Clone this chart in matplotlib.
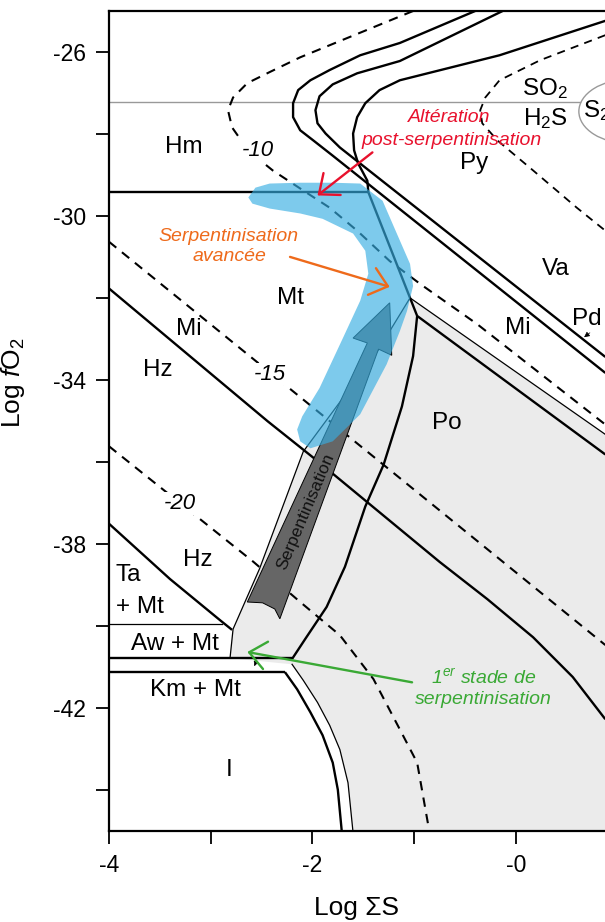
import numpy as np
import matplotlib
matplotlib.use("Agg")
import matplotlib.pyplot as plt
from matplotlib.patches import Polygon, Ellipse

plt.rcParams.update({"font.family": "Liberation Sans", "mathtext.fontset": "custom",
                     "mathtext.rm": "Liberation Sans", "mathtext.it": "Liberation Sans:italic",
                     "mathtext.bf": "Liberation Sans:bold"})
INK = "black"; GREY = "#ebebeb"; BLUE = "#37aee2"
RED = "#e8112d"; ORANGE = "#ee6a1b"; GREEN = "#3aa935"

# ---- boundaries (x = log sum S, y = log fO2) ----
hm_mt_x = [-4.0, -1.45]; hm_mt_y = [-29.42, -29.42]
mt_py_x = [-1.45, -1.04]; mt_py_y = [-29.42, -32.00]
hm_py_x = [0.88, -0.16, -1.14, -1.34, -1.48, -1.56, -1.60, -1.59, -1.55, -1.46, -1.45]
hm_py_y = [-25.24, -26.08, -26.69, -26.93, -27.25, -27.59, -27.99, -28.40, -28.72, -29.14, -29.42]
ni1_x = [-0.40, -1.14, -1.53, -1.83, -2.02, -2.14, -2.19, -2.19, -2.12, -1.99, -1.80, 0.88]
ni1_y = [-25.00, -25.78, -26.08, -26.44, -26.69, -26.93, -27.25, -27.59, -27.91, -28.16, -28.53, -33.83]
ni2_x = [-0.13, -1.14, -1.56, -1.80, -1.93, -1.97, -1.95, -1.87, -1.73, 0.88]
ni2_y = [-25.00, -26.22, -26.52, -26.79, -27.08, -27.42, -27.74, -27.99, -28.33, -33.44]
d10_x = [-1.01, -2.12, -2.42, -2.64, -2.78, -2.83, -2.79, -2.68, -2.51, -2.39, -2.09, -1.83, -1.56,
         -1.24, -0.94, -0.38, 0.88]
d10_y = [-25.00, -26.13, -26.49, -26.76, -27.11, -27.42, -27.84, -28.23, -28.65, -28.89, -29.38, -29.80,
         -30.36, -31.10, -31.66, -32.64, -35.09]
so2_x = [0.88, 0.24, -0.16, -0.30, -0.35, -0.33, -0.18, 0.17, 0.60, 0.88]
so2_y = [-25.59, -26.20, -26.69, -27.11, -27.42, -27.74, -28.16, -28.89, -29.80, -30.36]
mipo_thin_x = [-1.04, 0.88]; mipo_thin_y = [-32.00, -35.33]
mipo_x = [-1.04, -0.97, 0.88]; mipo_y = [-32.00, -32.44, -35.82]
po_x = [-0.97, -1.01, -1.12, -1.30, -1.48, -1.68, -1.86, -2.07, -2.20]
po_y = [-32.44, -33.42, -34.65, -36.07, -37.09, -38.56, -39.54, -40.32, -40.81]
mihz_x = [-4.0, -2.44, -1.97, -0.75, -0.28, 0.17, 0.56, 0.88]
mihz_y = [-31.77, -35.01, -35.94, -38.44, -39.35, -40.28, -41.25, -42.28]
d15_x = [-4.0, 0.88]; d15_y = [-30.63, -40.47]
d20_x = [-4.00, -2.58, -2.12, -1.73, -1.40, -1.14, -0.97, -0.86, -0.85]
d20_y = [-35.62, -38.44, -39.42, -40.23, -41.30, -42.53, -43.34, -44.88, -45.05]
ta_x = [-4.00, -3.40, -2.91, -2.79]; ta_y = [-37.51, -38.86, -39.86, -40.10]
aw_top_x = [-4.0, -2.89]; aw_top_y = [-39.96, -39.96]
aw_bot_x = [-4.0, -2.20]; aw_bot_y = [-40.79, -40.79]
km_top_x = [-4.0, -2.27]; km_top_y = [-41.13, -41.13]
km_in_x = [-2.27, -2.15, -2.02, -1.90, -1.80, -1.75, -1.71]
km_in_y = [-41.13, -41.55, -42.11, -42.67, -43.34, -44.00, -45.05]
km_out_x = [-2.20, -2.09, -1.95, -1.83, -1.73, -1.65, -1.60]
km_out_y = [-40.94, -41.33, -41.87, -42.43, -43.02, -43.83, -45.05]
left_x = [-2.81, -2.78, -2.52, -2.09, -1.36, -1.04]
left_y = [-40.79, -40.08, -38.61, -35.75, -33.30, -32.00]
so2_line_y = -27.23

blue_x = [-2.63, -2.56, -2.42, -2.12, -1.80, -1.53, -1.31, -1.17, -1.04, -1.01, -1.07, -1.14, -1.27,
          -1.53, -1.80, -2.02, -2.12, -2.15, -2.10, -1.93, -1.70, -1.53, -1.45, -1.48, -1.60, -1.90,
          -2.12, -2.42, -2.59]
blue_y = [-29.55, -29.31, -29.21, -29.19, -29.19, -29.21, -29.63, -30.43, -31.17, -31.71, -32.32, -32.81,
          -33.62, -34.84, -35.50, -35.67, -35.50, -35.21, -34.89, -34.20, -32.98, -32.07, -31.41, -30.85,
          -30.43, -30.07, -29.94, -29.82, -29.70]
arrow_x = [-2.64, -1.46, -1.60, -1.24, -1.22, -1.35, -2.32, -2.37, -2.49]
arrow_y = [-39.42, -33.10, -32.98, -32.12, -33.40, -33.25, -39.83, -39.59, -39.44]

fig = plt.figure(figsize=(6.05, 9.22), dpi=100)
ax = fig.add_axes([109 / 605, 91.3 / 922, 496 / 605, 819.7 / 922])
ax.set_xlim(-4, 0.877); ax.set_ylim(-45, -25)

# grey field (Po side)
gx = np.concatenate([[-1.04, 0.88, 0.95, -1.60], km_out_x[::-1], left_x])
gy = np.concatenate([[-32.00, -35.33, -45.5, -45.5], km_out_y[::-1], left_y])
ax.add_patch(Polygon(np.c_[gx, gy], closed=True, fc=GREY, ec="none", zorder=0))

thick = dict(color=INK, lw=1.7, zorder=2, solid_capstyle="butt", solid_joinstyle="round")
thin = dict(color=INK, lw=0.9, zorder=2)
dash = dict(color=INK, lw=1.5, zorder=2, dashes=(4.5, 3.5))
ax.axhline(so2_line_y, xmax=(0.63 + 4) / 4.877, color="#999999", lw=1.0, zorder=1)
ax.add_patch(Ellipse((1.12, -27.45), 1.0, 1.57, fc="none", ec="#999999", lw=1.0, zorder=1))
for xs, ys in [(hm_mt_x, hm_mt_y), (mt_py_x, mt_py_y), (hm_py_x, hm_py_y), (ni1_x, ni1_y),
               (ni2_x, ni2_y), (mipo_x, mipo_y), (po_x, po_y), (mihz_x, mihz_y), (ta_x, ta_y),
               (aw_bot_x, aw_bot_y), (km_top_x, km_top_y), (km_in_x, km_in_y)]:
    ax.plot(xs, ys, **thick)
for xs, ys in [(mipo_thin_x, mipo_thin_y), (aw_top_x, aw_top_y), (km_out_x, km_out_y), (left_x, left_y)]:
    ax.plot(xs, ys, **thin)
ax.plot(d10_x, d10_y, **dash); ax.plot(d15_x, d15_y, **dash); ax.plot(d20_x, d20_y, **dash)
ax.plot(so2_x, so2_y, color=INK, lw=1.3, zorder=2, dashes=(4.5, 3.5))

# serpentinisation path + blue alteration band
ax.add_patch(Polygon(np.c_[arrow_x, arrow_y], closed=True, fc="#666666", ec=INK, lw=0.7, zorder=3))
ax.text(-2.07, -37.22, "Serpentinisation", rotation=67, fontsize=12.5, ha="center", va="center",
        color="#111111", zorder=4)
ax.add_patch(Polygon(np.c_[blue_x, blue_y], closed=True, fc=BLUE, ec="none", alpha=0.65, zorder=5))

lab = dict(fontsize=17.5, ha="center", va="center", zorder=6)
for s, x, y in [("Hm", -3.26, -28.33), ("Mt", -2.22, -32.00), ("Mi", -3.22, -32.76),
                ("Hz", -3.52, -33.76), ("Hz", -3.13, -38.39), ("Ta", -3.81, -38.76),
                ("+ Mt", -3.70, -39.54), ("Aw + Mt", -3.35, -40.45), ("Km + Mt", -3.15, -41.57),
                ("I", -2.82, -43.51), ("Po", -0.68, -35.06), ("Py", -0.41, -28.72),
                ("Va", 0.39, -31.29), ("Mi", 0.02, -32.74), ("Pd", 0.70, -32.52),
                ("SO$_2$", 0.29, -26.88), ("H$_2$S", 0.29, -27.62)]:
    ax.text(x, y, s, **lab)
ax.text(0.66, -27.42, "S$_2$", fontsize=17.5, ha="left", va="center", zorder=6)
for s, x, y in [("-10", -2.54, -28.40), ("-15", -2.42, -33.86), ("-20", -3.30, -37.02)]:
    ax.text(x, y, s, fontsize=16, style="italic", ha="center", va="center", zorder=6,
            bbox=dict(fc="white", ec="none", pad=0.5))
ax.annotate("", xy=(0.65, -33.0), xytext=(0.75, -32.81),
            arrowprops=dict(arrowstyle="-|>", color=INK, lw=0.5, mutation_scale=8), zorder=6)
ax.annotate("", xy=(-2.58, -41.05), xytext=(-2.55, -40.85),
            arrowprops=dict(arrowstyle="-|>", color=INK, lw=0.5, mutation_scale=7), zorder=6)

# coloured call-outs
head = "->,head_length=0.6,head_width=0.5"
for s, tx, ty, col in [("Altération", -0.65, -27.59, RED),
                       ("post-serpentinisation", -0.63, -28.16, RED),
                       ("Serpentinisation\navancée", -2.82, -30.75, ORANGE),
                       ("1$^{er}$ stade de\nserpentinisation", -0.32, -41.52, GREEN)]:
    ax.text(tx, ty, s, color=col, fontsize=14, style="italic", ha="center", va="center",
            linespacing=1.2, zorder=7)
for ax0, ay0, ax1, ay1, col in [(-1.41, -28.45, -1.95, -29.50, RED),
                                (-2.22, -31.00, -1.24, -31.73, ORANGE),
                                (-1.02, -41.38, -2.64, -40.64, GREEN)]:
    ax.annotate("", xy=(ax1, ay1), xytext=(ax0, ay0), zorder=7,
                arrowprops=dict(arrowstyle=head, color=col, lw=1.7, mutation_scale=20,
                                shrinkA=0, shrinkB=0))

ax.spines["right"].set_visible(False)
for sp in ["left", "bottom", "top"]:
    ax.spines[sp].set_linewidth(1.6)
ax.set_xticks([-4, -3, -2, -1, 0]); ax.set_xticklabels(["-4", "", "-2", "", "-0"])
ax.set_yticks(np.arange(-44, -25, 2))
ax.set_yticklabels(["", "-42", "", "-38", "", "-34", "", "-30", "", "-26"])
ax.tick_params(direction="out", length=9.5, width=1.3, labelsize=16.5, pad=7)
ax.set_xlabel("Log ΣS", fontsize=19, labelpad=14)
ax.set_ylabel("Log $f$O$_2$", fontsize=19)
ax.yaxis.set_label_coords(-0.165, 0.546)
fig.savefig("out.png", dpi=100)
